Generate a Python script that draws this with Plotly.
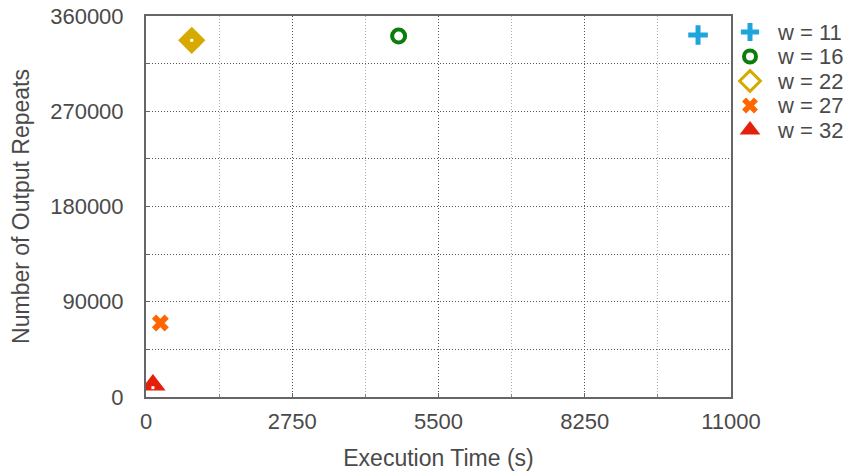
import plotly.graph_objects as go

# Execution time (s) vs. number of output repeats for each window size w
labels = ["w = 11", "w = 16", "w = 22", "w = 27", "w = 32"]
exec_time = [10380, 4750, 860, 270, 130]
repeats = [342000, 341000, 337000, 70000, 11300]

colors = ["#1ea5dc", "#0b7d0b", "#d6aa00", "#ff6600", "#e4200a"]
plot_symbols = ["cross-thin-open", "circle-open", "diamond", "x", "triangle-up"]
legend_symbols = ["cross-thin-open", "circle-open", "diamond-open", "x", "triangle-up"]
plot_sizes = [14, 13, 21, 15, 22]
legend_sizes = [13, 12, 16, 14, 18]

x_ticks = [0, 2750, 5500, 8250, 11000]
y_ticks = [0, 90000, 180000, 270000, 360000]

font_family = "Helvetica Neue, Liberation Sans, Arial, sans-serif"
text_color = "#4a4a4a"

# canvas layout (pixels)
W, H = 846, 475
LEFT, TOP, BOTTOM = 146, 16, 78
PLOT_RIGHT = 731
inner_w = W - LEFT
split = (PLOT_RIGHT - LEFT) / inner_w


def line_width(symbol):
    return {"cross-thin-open": 5, "circle-open": 4, "diamond-open": 3}.get(symbol, 0)


fig = go.Figure()

# data points
for lab, xv, yv, c, s, sz in zip(labels, exec_time, repeats, colors, plot_symbols, plot_sizes):
    fig.add_trace(go.Scatter(
        x=[xv], y=[yv], mode="markers", name=lab,
        marker=dict(color=c, symbol=s, size=sz, opacity=1,
                    line=dict(color=c, width=line_width(s)))))
    # small white centre spot on the filled diamond and triangle
    if s in ("diamond", "triangle-up"):
        fig.add_trace(go.Scatter(
            x=[xv], y=[yv + (-2500 if s == "triangle-up" else 0)], mode="markers",
            hoverinfo="skip",
            marker=dict(color="white", symbol="square", size=3, opacity=1,
                        line=dict(width=0))))

# key on the right, laid out in pixel units on its own axes
key_rows = [32 + 24.5 * i for i in range(len(labels))]
key_x = [750] * len(labels)
fig.add_trace(go.Scatter(
    x=key_x, y=key_rows, xaxis="x2", yaxis="y2", mode="markers", hoverinfo="skip",
    marker=dict(color=colors, symbol=legend_symbols, size=legend_sizes, opacity=1,
                line=dict(color=colors, width=[line_width(s) for s in legend_symbols]))))
for lab, ry in zip(labels, key_rows):
    fig.add_annotation(x=775, y=ry, xref="x2", yref="y2", text=lab, showarrow=False,
                       xanchor="left", yanchor="middle",
                       font=dict(size=22, color=text_color, family=font_family))

grid_dash = "1px,2px"

fig.update_layout(
    width=W, height=H,
    margin=dict(l=LEFT, r=0, t=TOP, b=BOTTOM, autoexpand=False),
    plot_bgcolor="white", paper_bgcolor="white",
    font=dict(family=font_family, size=22, color=text_color),
    showlegend=False,
    xaxis=dict(
        domain=[0, split],
        range=[0, 11000], tickvals=x_ticks, ticktext=[str(v) for v in x_ticks],
        showgrid=True, gridcolor="#555555", griddash=grid_dash, gridwidth=1,
        minor=dict(dtick=1375, tick0=0, showgrid=True, gridcolor="#aaaaaa",
                   griddash=grid_dash, ticks="inside", ticklen=3, tickcolor="#888"),
        ticks="inside", ticklen=4, tickcolor="#666",
        showline=True, linecolor="#666666", linewidth=2, mirror=True,
        zeroline=False, ticklabelstandoff=4,
        title=dict(text="Execution Time (s)", font=dict(size=23, color=text_color), standoff=16),
        tickfont=dict(size=22, color=text_color),
    ),
    yaxis=dict(
        range=[0, 360000], tickvals=y_ticks, ticktext=[str(v) for v in y_ticks],
        showgrid=True, gridcolor="#555555", griddash=grid_dash, gridwidth=1,
        minor=dict(dtick=45000, tick0=0, showgrid=True, gridcolor="#555555",
                   griddash=grid_dash, ticks="inside", ticklen=3, tickcolor="#666"),
        ticks="inside", ticklen=4, tickcolor="#666",
        showline=True, linecolor="#666666", linewidth=2, mirror=True,
        zeroline=False, ticklabelstandoff=16,
        title=dict(text="Number of Output Repeats", font=dict(size=23, color=text_color), standoff=14),
        tickfont=dict(size=22, color=text_color),
    ),
    xaxis2=dict(domain=[split, 1], range=[PLOT_RIGHT, W], visible=False,
                anchor="y2", fixedrange=True),
    yaxis2=dict(domain=[0, 1], range=[H - BOTTOM, TOP], visible=False,
                anchor="x2", fixedrange=True),
)

fig.write_html("out.html")
